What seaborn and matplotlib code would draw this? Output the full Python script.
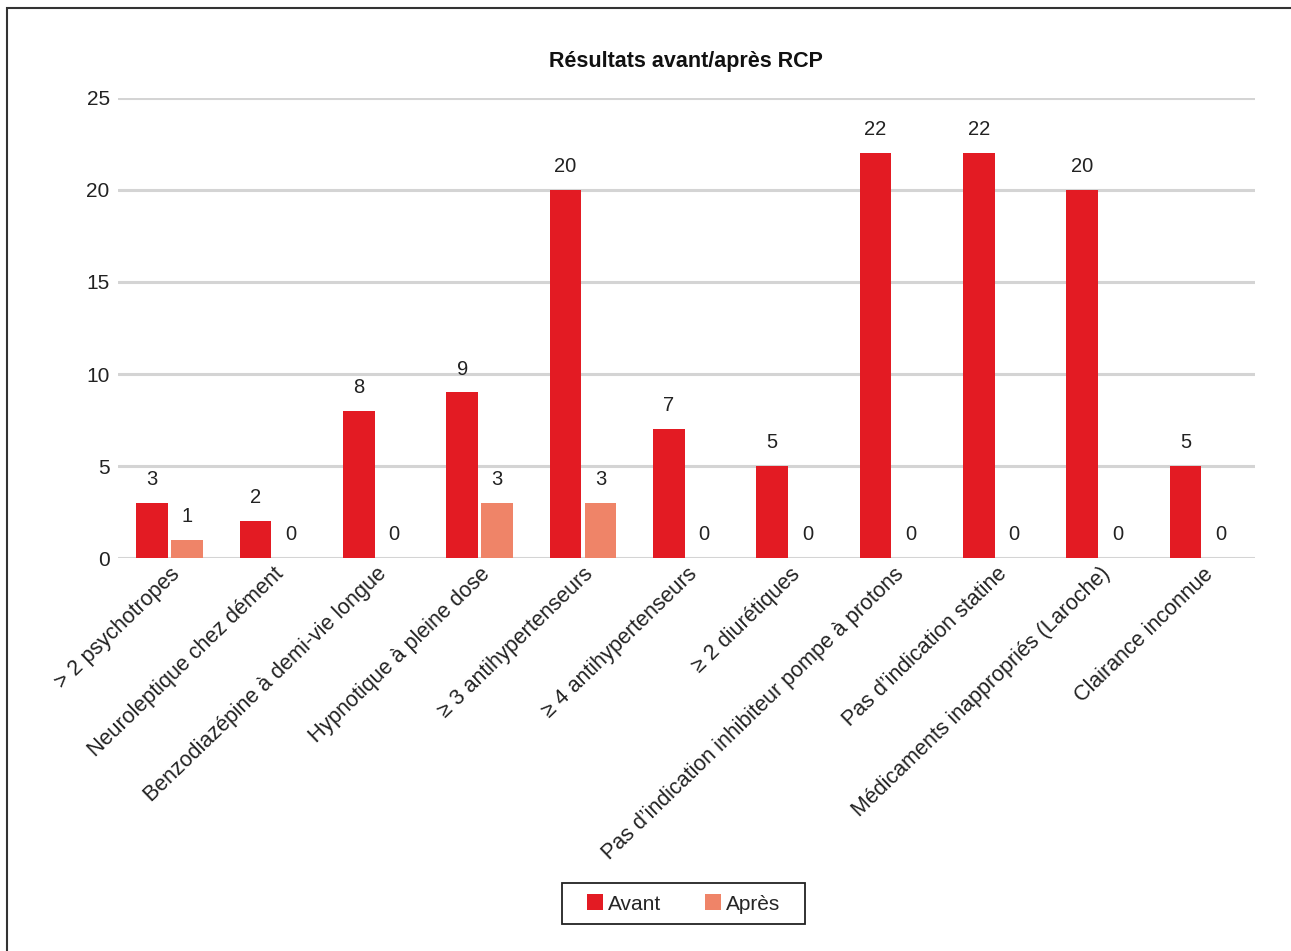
import pandas as pd
import seaborn as sns
import matplotlib.pyplot as plt
from matplotlib.patches import Rectangle

# data
categories = [
    "> 2 psychotropes",
    "Neuroleptique chez dément",
    "Benzodiazépine à demi-vie longue",
    "Hypnotique à pleine dose",
    "≥ 3 antihypertenseurs",
    "≥ 4 antihypertenseurs",
    "≥ 2 diurétiques",
    "Pas d’indication inhibiteur pompe à protons",
    "Pas d’indication statine",
    "Médicaments inappropriés (Laroche)",
    "Clairance inconnue",
]
avant = [3, 2, 8, 9, 20, 7, 5, 22, 22, 20, 5]
apres = [1, 0, 0, 3, 3, 0, 0, 0, 0, 0, 0]
series = ["Avant", "Après"]
colors = ["#e31b23", "#ef8468"]

df = pd.DataFrame({
    "cat": categories * 2,
    "val": avant + apres,
    "serie": [series[0]] * len(avant) + [series[1]] * len(apres),
})

sns.set_style("white")
plt.rcParams["font.family"] = ["Liberation Sans", "DejaVu Sans"]

fig = plt.figure(figsize=(12.91, 9.51), dpi=100)
ax = fig.add_axes([0.0914, 0.4132, 0.8806, 0.4838])

sns.barplot(data=df, x="cat", y="val", hue="serie", palette=colors,
            width=0.68, gap=0.1, saturation=1, linewidth=0, ax=ax, legend=True)

# value labels above bars
for cont in ax.containers:
    ax.bar_label(cont, fmt="%d", padding=10, fontsize=14.5, color="#222222")

ax.set_ylim(0, 25)
ax.set_xlim(-0.5, len(categories) - 0.5)
ax.set_yticks(range(0, 26, 5))
ax.yaxis.grid(True, color="#d4d4d4", linewidth=2.2)
ax.set_axisbelow(True)
for s in ax.spines.values():
    s.set_visible(False)
ax.tick_params(axis="both", length=0, labelsize=15, colors="#222222")
ax.tick_params(axis="y", pad=6)
ax.set_xlabel("")
ax.set_ylabel("")
plt.setp(ax.get_xticklabels(), rotation=44, ha="right", rotation_mode="anchor",
         fontsize=15.5)
ax.tick_params(axis="x", pad=4)

ax.set_title("Résultats avant/après RCP", fontsize=15.5, fontweight="bold",
             pad=22, color="#111111")

# legend without its own frame; the box is drawn separately
leg = ax.legend(loc="center", ncol=2, fontsize=15, frameon=False,
                handlelength=0.77, handleheight=0.77, columnspacing=2.1,
                borderpad=0.3, handletextpad=0.25, borderaxespad=0)
leg.set_bbox_to_anchor((683.5 / 1291, 1 - 904 / 951), transform=fig.transFigure)
fig.add_artist(Rectangle((562 / 1291, 1 - 924 / 951), 243 / 1291, 41 / 951,
                         transform=fig.transFigure, fill=False,
                         edgecolor="#222222", linewidth=1.3))

# outer frame
fig.add_artist(Rectangle((7 / 1291, -0.05), 1.1, 1 - 8 / 951 + 0.05,
                         transform=fig.transFigure, fill=False,
                         edgecolor="#333333", linewidth=1.5))

fig.savefig("out.png", dpi=100)
